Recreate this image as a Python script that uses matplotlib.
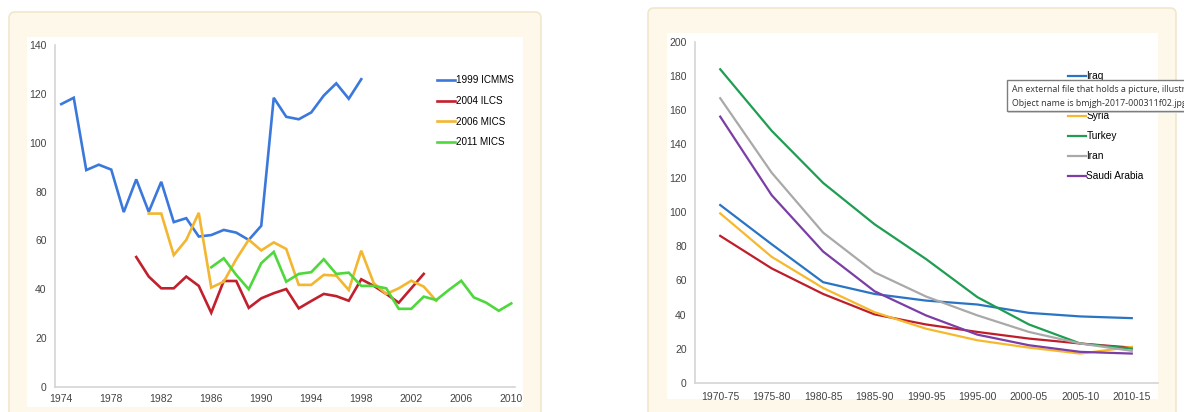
import matplotlib
matplotlib.use("Agg")
import matplotlib.pyplot as plt
from matplotlib.patches import FancyBboxPatch, Rectangle

W, H = 1184, 412

# --- left panel: under-five mortality by survey ---
icmms_years = list(range(1974, 1999))
icmms_vals = [115.8, 118.4, 88.8, 91.0, 89.0, 71.6, 85.0, 71.7, 84.0, 67.5, 69.1,
              61.6, 62.2, 64.3, 63.2, 60.2, 66.0, 118.4, 110.6, 109.6, 112.4,
              119.3, 124.3, 118.0, 126.0]

ilcs_years = list(range(1980, 2004))
ilcs_vals = [53.2, 45.2, 40.4, 40.4, 45.2, 41.4, 30.4, 43.4, 43.4, 32.4, 36.3, 38.4,
             40.1, 32.2, 35.2, 38.1, 37.2, 35.3, 44.1, 41.4, 38.1, 34.5, 40.4, 46.3]

mics06_years = list(range(1981, 2005))
mics06_vals = [71.0, 71.0, 54.0, 60.2, 71.3, 40.7, 43.1, 52.3, 60.3, 55.9, 59.2, 56.5,
               41.8, 41.8, 45.9, 45.6, 39.7, 55.8, 42.5, 38.1, 40.4, 43.5, 41.1, 35.3]

mics11_years = list(range(1986, 2011))
mics11_vals = [49.0, 52.7, 45.9, 40.0, 50.7, 55.3, 43.1, 46.3, 47.0, 52.3, 46.3, 46.8,
               41.4, 41.4, 40.4, 32.0, 32.0, 37.0, 35.6, 39.7, 43.5, 36.7, 34.5, 31.2, 34.2]

left_series = [
    ("1999 ICMMS", icmms_years, icmms_vals, "#3b78dc"),
    ("2004 ILCS", ilcs_years, ilcs_vals, "#c1202d"),
    ("2006 MICS", mics06_years, mics06_vals, "#f3b630"),
    ("2011 MICS", mics11_years, mics11_vals, "#4ed83c"),
]
left_xticks = list(range(1974, 2011, 4))
left_yticks = list(range(0, 141, 20))

# --- right panel: regional comparison by 5-year period ---
periods = ["1970-75", "1975-80", "1980-85", "1985-90", "1990-95",
           "1995-00", "2000-05", "2005-10", "2010-15"]
iraq = [104.3, 81.3, 59.0, 52.1, 48.2, 45.9, 41.0, 38.9, 37.9]
jordan = [86.2, 67.1, 52.1, 40.1, 34.2, 29.8, 25.9, 23.0, 20.6]
syria = [99.4, 73.9, 55.6, 41.4, 31.7, 24.9, 20.6, 17.1, 21.0]
turkey = [184.0, 147.9, 117.3, 93.0, 72.6, 50.2, 34.2, 23.0, 20.0]
iran = [167.0, 123.3, 88.1, 64.8, 50.6, 39.5, 29.8, 23.0, 18.7]
saudi = [156.2, 110.1, 77.0, 53.7, 39.5, 28.2, 22.0, 18.1, 17.1]

right_series = [
    ("Iraq", iraq, "#2a74c4"),
    ("Jordan", jordan, "#be1e2a"),
    ("Syria", syria, "#f6b92e"),
    ("Turkey", turkey, "#1f9d52"),
    ("Iran", iran, "#a9a9a9"),
    ("Saudi Arabia", saudi, "#7b3da6"),
]
right_yticks = list(range(0, 201, 20))

plt.rcParams["font.family"] = ["Liberation Sans", "DejaVu Sans"]

fig = plt.figure(figsize=(W / 100, H / 100), dpi=100, facecolor="white")


def rect(x0, y0, x1, y1):
    # pixel box (top-left origin) -> figure fraction rect
    return [x0 / W, (H - y1) / H, (x1 - x0) / W, (y1 - y0) / H]


# background layer with the two cream cards
bg = fig.add_axes([0, 0, 1, 1], zorder=0)
bg.set_xlim(0, W)
bg.set_ylim(H, 0)
bg.axis("off")
for x0, y0, x1 in [(9, 12, 541), (648, 8, 1176)]:
    bg.add_patch(FancyBboxPatch((x0, y0), x1 - x0, H + 20 - y0,
                                boxstyle="round,pad=0,rounding_size=6",
                                facecolor="#fdf8e9", edgecolor="#f1e7cf", lw=1.2))
bg.add_patch(Rectangle((27, 37), 496, 370, facecolor="white", edgecolor="none"))
bg.add_patch(Rectangle((667, 33), 491, 366, facecolor="white", edgecolor="none"))

tick_color = "#444444"
spine_color = "#d4d4d4"


def style(ax):
    ax.set_facecolor("none")
    for s in ("top", "right"):
        ax.spines[s].set_visible(False)
    for s in ("left", "bottom"):
        ax.spines[s].set_color(spine_color)
        ax.spines[s].set_linewidth(1.2)
    ax.tick_params(length=0, labelsize=7.5, colors=tick_color)
    ax.tick_params(axis="x", pad=5)
    ax.tick_params(axis="y", pad=6)


# left chart
ax1 = fig.add_axes(rect(55, 45, 515, 387), zorder=1)
style(ax1)
for label, xs, ys, col in left_series:
    ax1.plot(xs, ys, color=col, lw=1.9, label=label, solid_joinstyle="miter")
ax1.set_xlim(1973.5, 2010.3)
ax1.set_ylim(0, 140)
ax1.set_xticks(left_xticks)
ax1.set_yticks(left_yticks)
ax1.legend(loc="upper left", bbox_to_anchor=(0.83, 0.911), frameon=False,
           fontsize=7.1, handlelength=1.85, handletextpad=0.05,
           labelspacing=1.08, borderpad=0, borderaxespad=0)

# right chart
ax2 = fig.add_axes(rect(695, 42, 1157.5, 382.7), zorder=1)
style(ax2)
for label, ys, col in right_series:
    ax2.plot(range(len(periods)), ys, color=col, lw=1.6, label=label)
ax2.set_xlim(-0.49, 8.5)
ax2.set_ylim(0, 200)
ax2.set_xticks(range(len(periods)))
ax2.set_xticklabels(periods)
ax2.set_yticks(right_yticks)
ax2.tick_params(axis="x", pad=7)
ax2.legend(loc="upper left", bbox_to_anchor=(0.807, 0.914), frameon=False,
           fontsize=7.3, handlelength=1.75, handletextpad=0.05,
           labelspacing=0.99, borderpad=0, borderaxespad=0)

# browser tooltip overlay covering part of the right legend
top = fig.add_axes([0, 0, 1, 1], zorder=5)
top.set_xlim(0, W)
top.set_ylim(H, 0)
top.axis("off")
top.add_patch(Rectangle((1008, 82), 200, 31, facecolor="#d8d8d8", edgecolor="none"))
top.add_patch(Rectangle((1006.5, 80), 200, 31, facecolor="white",
                        edgecolor="#7d7d7d", lw=1))
tip_font = ["Open Sans", "DejaVu Sans"]
top.text(1012.5, 89, "An external file that holds a picture, illustration, etc.",
         fontsize=6.4, color="#333333", va="center", family=tip_font)
top.text(1012.5, 103, "Object name is bmjgh-2017-000311f02.jpg",
         fontsize=6.4, color="#333333", va="center", family=tip_font)

fig.savefig("out.png", dpi=100)
